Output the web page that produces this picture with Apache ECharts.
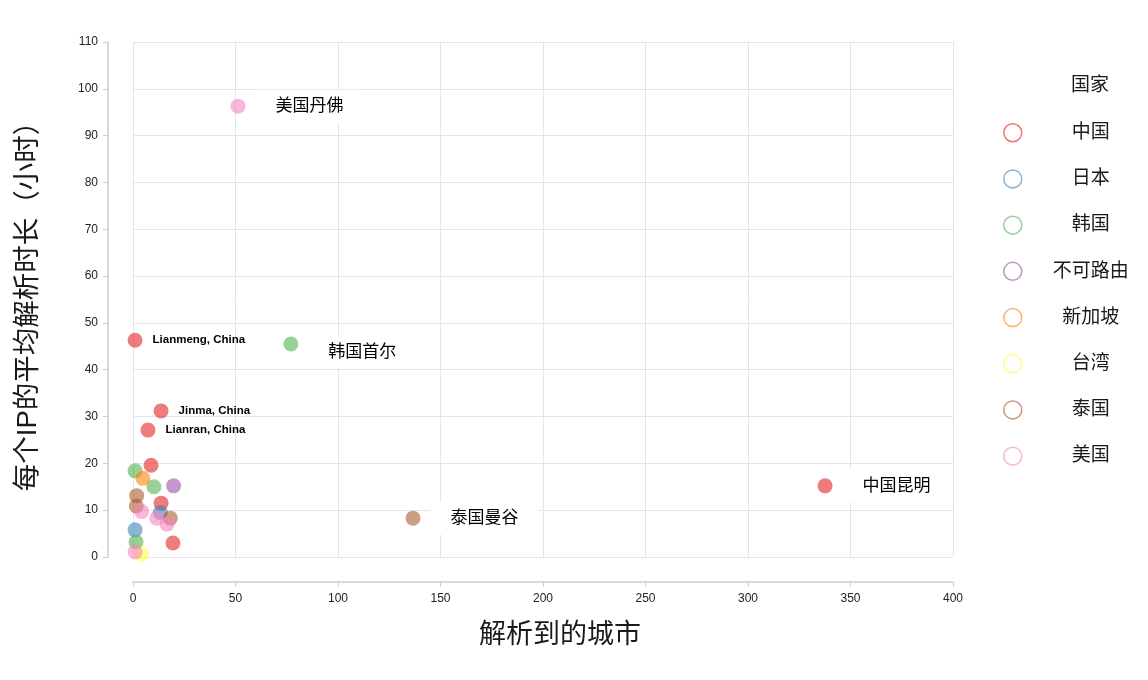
<!DOCTYPE html>
<html>
<head>
<meta charset="utf-8">
<script src="https://cdn.jsdelivr.net/npm/echarts@6/dist/echarts.min.js"></script>
<style>html,body{margin:0;padding:0;background:#fff;}#c{width:1148px;height:680px;}</style>
</head>
<body>
<div id="c"></div>
<script>
// ---- data ----
const countries = ['中国', '日本', '韩国', '不可路由', '新加坡', '台湾', '泰国', '美国'];
const colors = ['#e41a1c', '#377eb8', '#4daf4a', '#984ea3', '#ff7f00', '#ffff33', '#a65628', '#f781bf'];
const chinaPts = [[1, 46.3, 'Lianmeng, China'], [13.7, 31.2, 'Jinma, China'], [7.3, 27.1, 'Lianran, China'], [8.8, 19.6], [13.7, 11.5], [19.5, 3.0], [337.6, 15.2, '中国昆明']];
const japanPts = [[1, 5.8], [13.3, 9.5]];
const koreaPts = [[77, 45.5, '韩国首尔'], [1, 18.4], [10.2, 15.0], [1.5, 3.2]];
const unroutablePts = [[19.8, 15.2]];
const singaporePts = [[4.8, 16.8]];
const taiwanPts = [[4.2, 0.6]];
const thailandPts = [[136.6, 8.3, '泰国曼谷'], [1.8, 13.1], [1.6, 10.9], [18.2, 8.3]];
const usaPts = [[51.2, 96.3, '美国丹佛'], [4.2, 9.7], [11.6, 8.3], [16.6, 7.0], [1, 1.1]];
const seriesPts = [chinaPts, japanPts, koreaPts, unroutablePts, singaporePts, taiwanPts, thailandPts, usaPts];
const xTicks = { min: 0, max: 400, interval: 50 };
const yTicks = { min: 0, max: 110, interval: 10 };
// ---- end data ----

const FONT = "'Liberation Sans','Noto Sans CJK SC',sans-serif";
const labelOffsets = { '韩国首尔': [0, 8] };
const isCJK = s => /[\u4e00-\u9fff]/.test(s);
function withAlpha(hex, a) {
  const n = parseInt(hex.slice(1), 16);
  return 'rgba(' + (n >> 16 & 255) + ',' + (n >> 8 & 255) + ',' + (n & 255) + ',' + a + ')';
}

function makeData(pts) {
  return pts.map(p => {
    const d = { value: [p[0], p[1]] };
    if (p[2]) {
      const cjk = isCJK(p[2]);
      d.label = cjk ? {
        show: true, formatter: p[2], position: 'right', distance: 10,
        offset: labelOffsets[p[2]] || [0, 0], opacity: 1,
        fontSize: 17, color: '#000', fontFamily: FONT,
        textBorderWidth: 0,
        backgroundColor: '#fff', padding: [8, 20]
      } : {
        show: true, formatter: p[2], position: 'right', distance: 10, opacity: 1,
        fontSize: 11.5, fontWeight: 'bold', color: '#000', fontFamily: FONT,
        textBorderWidth: 0
      };
    }
    return d;
  });
}

const series = countries.map((c, i) => ({
  name: c,
  type: 'scatter',
  symbolSize: 15,
  itemStyle: { color: withAlpha(colors[i], 0.72) },
  emphasis: { disabled: true },
  data: makeData(seriesPts[i])
}));

const chart = echarts.init(document.getElementById('c'));
chart.setOption({
  animation: false,
  textStyle: { fontFamily: FONT },
  title: {
    text: '国家', left: 1090, top: 76, textAlign: 'center', padding: 0,
    textStyle: { fontSize: 19, fontWeight: 'normal', color: '#1a1a1a', fontFamily: FONT }
  },
  legend: {
    orient: 'vertical', left: 1003, top: 123, padding: 0,
    itemWidth: 18, itemHeight: 18, itemGap: 26.7,
    icon: 'circle',
    data: countries.map((c, i) => ({
      name: c,
      itemStyle: { color: 'rgba(0,0,0,0)', borderColor: withAlpha(colors[i], 0.75), borderWidth: 1.5 }
    })),
    formatter: '{a|{name}}',
    textStyle: {
      fontSize: 19, color: '#1a1a1a', fontFamily: FONT,
      rich: { a: { width: 128, align: 'center', fontSize: 19, color: '#1a1a1a', fontFamily: FONT } }
    }
  },
  grid: { left: 133, right: 195, top: 42, bottom: 123 },
  xAxis: {
    type: 'value', min: xTicks.min, max: xTicks.max, interval: xTicks.interval,
    offset: 25,
    name: '解析到的城市', nameLocation: 'middle', nameGap: 40,
    nameTextStyle: { fontSize: 27, color: '#1a1a1a', fontFamily: FONT, padding: [0, 0, 0, 34] },
    axisLine: { show: true, onZero: false, lineStyle: { color: '#c9cdd5', width: 1.5 } },
    axisTick: { show: true, length: 5, lineStyle: { color: '#c9cdd5' } },
    axisLabel: { fontSize: 12, color: '#222', margin: 11, fontFamily: FONT },
    splitLine: { show: true, lineStyle: { color: '#e2e5eb', width: 1 } }
  },
  yAxis: {
    type: 'value', min: yTicks.min, max: yTicks.max, interval: yTicks.interval,
    offset: 25,
    name: '每个IP的平均解析时长（小时）', nameLocation: 'middle', nameGap: 66,
    nameTextStyle: { fontSize: 27.5, color: '#1a1a1a', fontFamily: FONT },
    axisLine: { show: true, onZero: false, lineStyle: { color: '#c9cdd5', width: 1.5 } },
    axisTick: { show: true, length: 5, lineStyle: { color: '#c9cdd5' } },
    axisLabel: { fontSize: 12, color: '#222', margin: 10, fontFamily: FONT },
    splitLine: { show: true, lineStyle: { color: '#e2e5eb', width: 1 } }
  },
  series: series
});
</script>
</body>
</html>
